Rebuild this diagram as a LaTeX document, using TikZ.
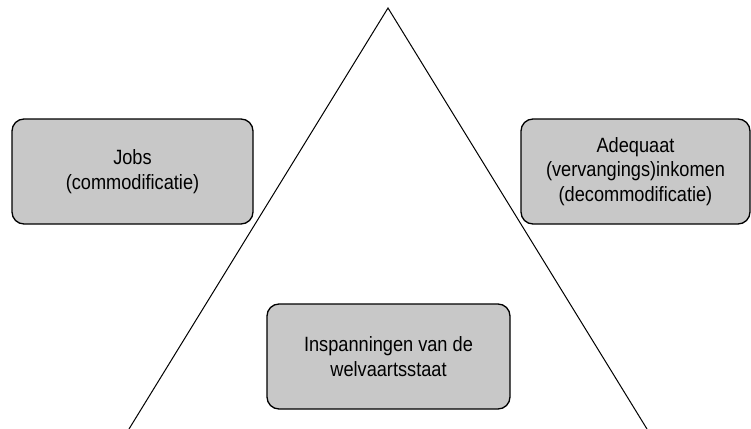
\documentclass[tikz,border=0pt]{standalone}
\usepackage{fontspec}
\setmainfont{Liberation Sans}[FakeStretch=0.88]
\definecolor{boxgray}{RGB}{200,200,200}
\begin{document}
\begin{tikzpicture}[x=0.75pt,y=-0.75pt,
    b/.style={draw,line width=1pt,fill=boxgray,rounded corners=9pt,
      align=center,minimum height=78.75pt,inner sep=0pt,
      font=\fontsize{15.5pt}{18.4pt}\selectfont}]
\useasboundingbox (0,0) rectangle (751,429);
\coordinate (top) at (388,8);
\coordinate (bl) at (129,429);
\coordinate (br) at (647,429);
\draw[line width=0.75pt] (bl) -- (top) -- (br);
\node[b,minimum width=180.75pt] (jobs) at (132.5,171.5) {Jobs\\(commodificatie)};
\node[b,minimum width=171.75pt] (ink) at (635.5,171.5)
    {Adequaat\\(vervangings)inkomen\\(decommodificatie)};
\node[b,minimum width=182.25pt] (ws) at (388.5,356.5)
    {Inspanningen van de\\welvaartsstaat};
\end{tikzpicture}
\end{document}
